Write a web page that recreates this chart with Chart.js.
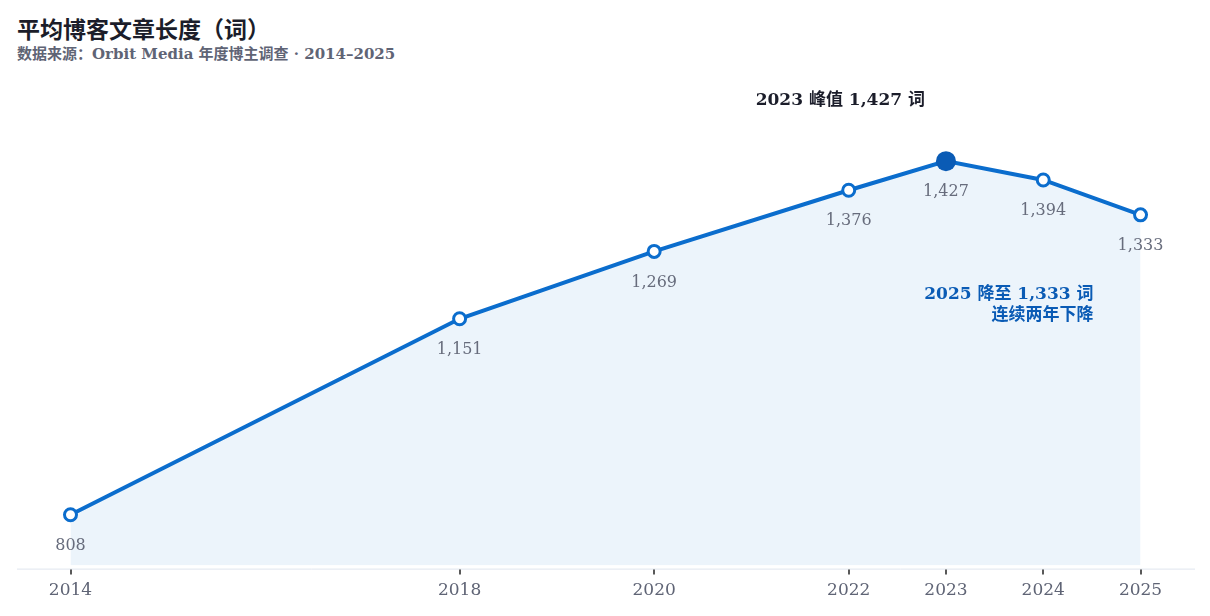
<!DOCTYPE html>
<html>
<head>
<meta charset="utf-8">
<script src="https://cdn.jsdelivr.net/npm/chart.js@4"></script>
<style>
  html, body { margin: 0; padding: 0; background: #fff; }
  body { width: 1210px; height: 616px; position: relative; overflow: hidden;
         font-family: "DejaVu Serif", "Noto Sans CJK SC", serif; }
  #title { position: absolute; left: 17px; top: 11px; font-size: 23px; font-weight: bold; color: #1b1d2a; }
  #subtitle { position: absolute; left: 17px; top: 42px; font-size: 15px; font-weight: bold; color: #5f6475; }
  #wrap { position: absolute; left: 0; top: 0; width: 1210px; height: 616px; }
</style>
</head>
<body>
<div id="title">平均博客文章长度（词）</div>
<div id="subtitle">数据来源：Orbit Media 年度博主调查 · 2014–2025</div>
<div id="wrap"><canvas id="c"></canvas></div>
<script>
// data
var years = [2014, 2018, 2020, 2022, 2023, 2024, 2025];
var words = [808, 1151, 1269, 1376, 1427, 1394, 1333];
var peakIndex = 4;
var peakNote = '2023 峰值 1,427 词';
var endNote = ['2025 降至 1,333 词', '连续两年下降'];

var FONT = '"DejaVu Serif", "Noto Sans CJK SC", serif';
var BLUE = '#0b6dcd';
var DARK_BLUE = '#0a5bb5';

var points = years.map(function (y, i) { return { x: y, y: words[i] }; });

var labelsPlugin = {
    id: 'labels',
    afterDatasetsDraw: function (chart) {
        var ctx = chart.ctx;
        var meta = chart.getDatasetMeta(0);
        ctx.save();
        ctx.font = '16px ' + FONT;
        ctx.fillStyle = '#676c7c';
        ctx.textAlign = 'center';
        ctx.textBaseline = 'middle';
        meta.data.forEach(function (pt, i) {
            ctx.fillText(words[i].toLocaleString('en-US'), pt.x, pt.y + 31);
        });

        var peak = meta.data[peakIndex];
        ctx.font = 'bold 17px ' + FONT;
        ctx.fillStyle = '#1b1d2a';
        ctx.textAlign = 'right';
        ctx.fillText(peakNote, peak.x - 21, 101);

        var last = meta.data[meta.data.length - 1];
        ctx.fillStyle = DARK_BLUE;
        ctx.font = 'bold 17px ' + FONT;
        ctx.fillText(endNote[0], last.x - 47, last.y + 80);
        ctx.fillText(endNote[1], last.x - 47, last.y + 101);
        ctx.restore();
    }
};

var baselinePlugin = {
    id: 'baseline',
    afterDraw: function (chart) {
        var ctx = chart.ctx, a = chart.chartArea;
        var xs = chart.scales.x;
        ctx.save();
        ctx.strokeStyle = '#dfe5ee';
        ctx.lineWidth = 1;
        ctx.beginPath();
        ctx.moveTo(a.left, a.bottom + 3.5);
        ctx.lineTo(a.right, a.bottom + 3.5);
        ctx.stroke();
        ctx.strokeStyle = '#222';
        ctx.lineWidth = 1.5;
        years.forEach(function (y) {
            var px = Math.round(xs.getPixelForValue(y));
            ctx.beginPath();
            ctx.moveTo(px, a.bottom + 4);
            ctx.lineTo(px, a.bottom + 9);
            ctx.stroke();
        });
        ctx.restore();
    }
};

new Chart(document.getElementById('c'), {
    type: 'line',
    data: {
        datasets: [{
            data: points,
            borderColor: BLUE,
            borderWidth: 4,
            fill: 'start',
            backgroundColor: 'rgba(11, 109, 205, 0.08)',
            tension: 0,
            pointRadius: words.map(function (v, i) { return i === peakIndex ? 10 : 6; }),
            pointBorderWidth: words.map(function (v, i) { return i === peakIndex ? 0 : 3; }),
            pointBackgroundColor: words.map(function (v, i) { return i === peakIndex ? DARK_BLUE : '#fff'; }),
            pointBorderColor: BLUE
        }]
    },
    options: {
        responsive: true,
        maintainAspectRatio: false,
        animation: false,
        layout: { padding: { left: 17, right: 15, top: 96, bottom: 0 } },
        plugins: { legend: { display: false }, tooltip: { enabled: false } },
        scales: {
            x: {
                type: 'linear',
                min: 2013.45,
                max: 2025.56,
                afterBuildTicks: function (axis) {
                    axis.ticks = years.map(function (y) { return { value: y }; });
                },
                ticks: {
                    autoSkip: false,
                    maxRotation: 0,
                    padding: 15,
                    color: '#5f6475',
                    font: { family: FONT, size: 17 },
                    callback: function (v) { return String(v); }
                },
                grid: { display: false, drawTicks: false },
                border: { display: false }
            },
            y: {
                display: false,
                min: 719,
                max: 1541
            }
        }
    },
    plugins: [labelsPlugin, baselinePlugin]
});
</script>
</body>
</html>
